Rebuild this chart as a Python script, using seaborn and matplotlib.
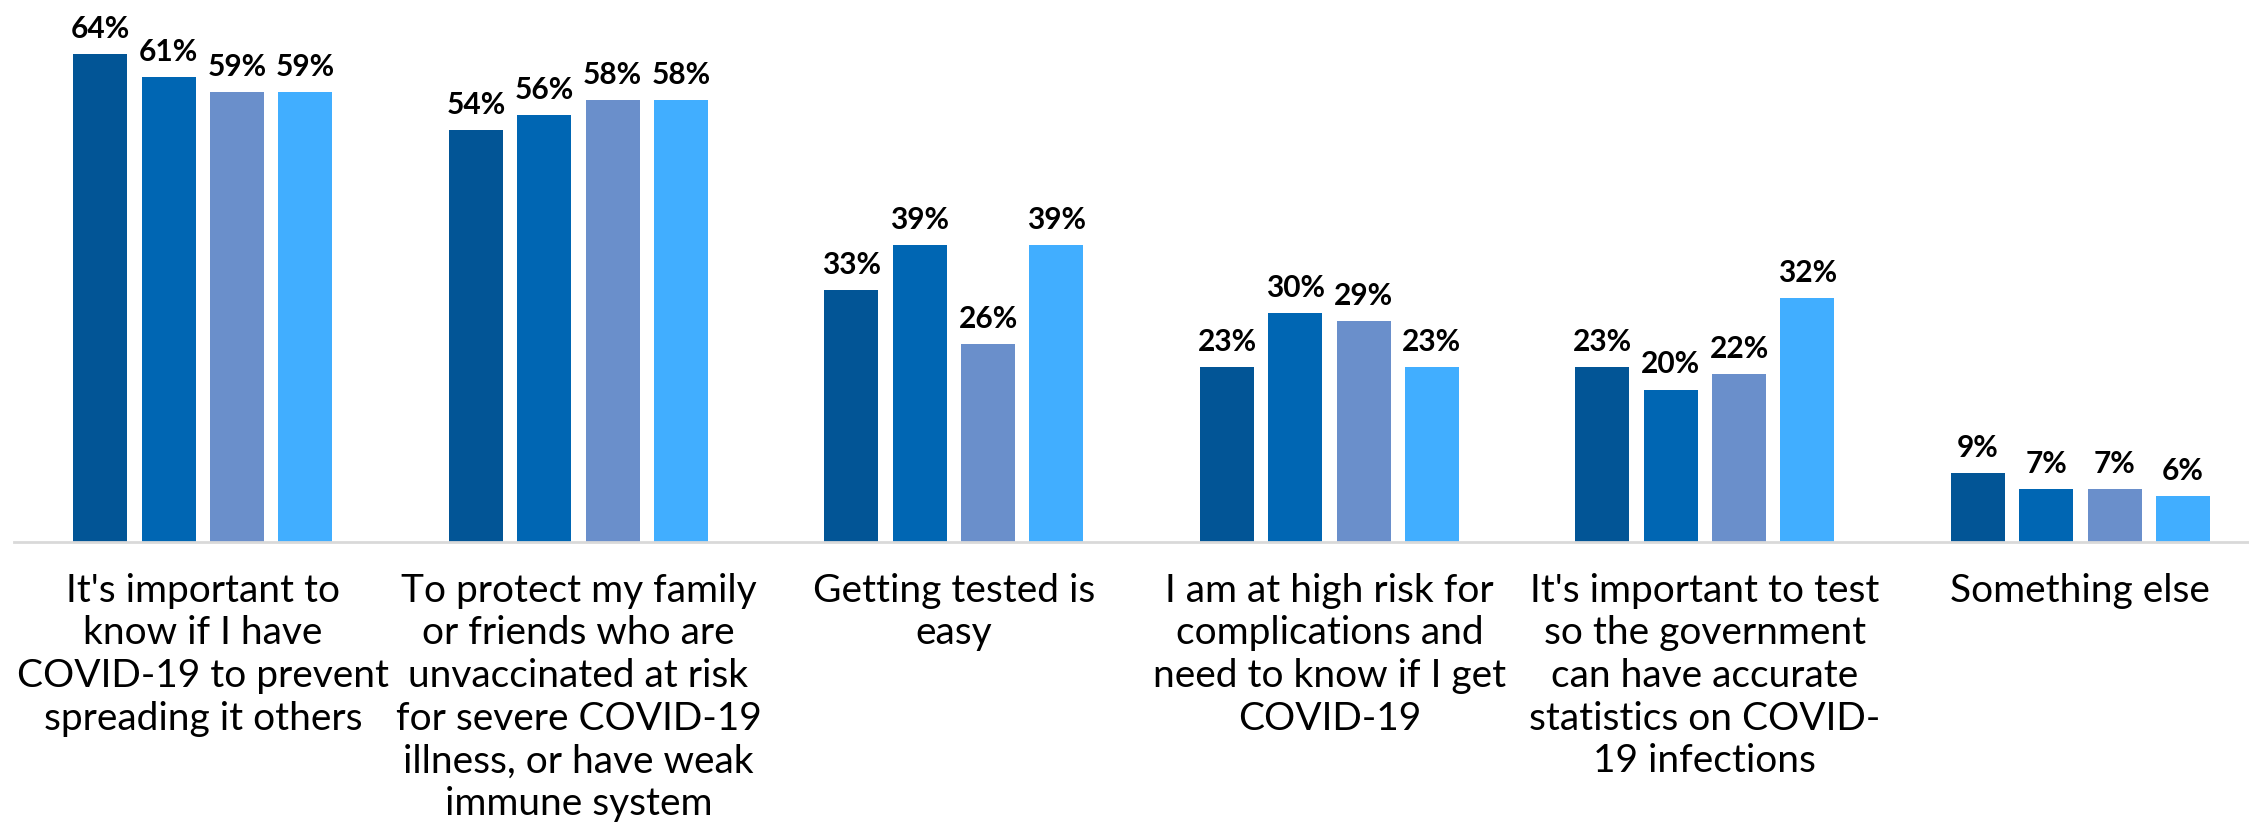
import matplotlib
matplotlib.use("Agg")
import matplotlib.pyplot as plt
import seaborn as sns
import pandas as pd

# Reasons for getting tested, four survey waves
categories = [
    "It's important to\nknow if I have\nCOVID-19 to prevent\nspreading it others",
    "To protect my family\nor friends who are\nunvaccinated at risk\nfor severe COVID-19\nillness, or have weak\nimmune system",
    "Getting tested is\neasy",
    "I am at high risk for\ncomplications and\nneed to know if I get\nCOVID-19",
    "It's important to test\nso the government\ncan have accurate\nstatistics on COVID-\n19 infections",
    "Something else",
]
waves = ["Wave 1", "Wave 2", "Wave 3", "Wave 4"]
wave1 = [64, 54, 33, 23, 23, 9]
wave2 = [61, 56, 39, 30, 20, 7]
wave3 = [59, 58, 26, 29, 22, 7]
wave4 = [59, 58, 39, 23, 32, 6]
palette = ["#025596", "#0066B3", "#6A8FCB", "#41AEFF"]

rows = []
for wave, vals in zip(waves, [wave1, wave2, wave3, wave4]):
    for cat, v in zip(categories, vals):
        rows.append({"reason": cat, "wave": wave, "pct": v})
df = pd.DataFrame(rows)

sns.set_theme(style="white")
plt.rcParams["font.family"] = ["Lato", "DejaVu Sans"]

W, H = 2249, 839
fig = plt.figure(figsize=(W / 100, H / 100), dpi=100)
ax_left, ax_bottom = 14 / W, (H - 542) / H
ax = fig.add_axes([ax_left, ax_bottom, 1 - ax_left, 542 / H])

sns.barplot(data=df, x="reason", y="pct", hue="wave", order=categories,
            hue_order=waves, palette=palette, width=0.7275, gap=0.21,
            linewidth=0, saturation=1, legend=False, ax=ax, errorbar=None)

for cont in ax.containers:
    ax.bar_label(cont, labels=[f"{int(round(b.get_height()))}%" for b in cont],
                 padding=8, fontsize=21.5, fontweight="bold", color="#000000")

ax.set_ylim(0, 71.1)
ax.set_xlim(-0.503, 5.449)
ax.set_xlabel("")
ax.set_ylabel("")
ax.set_yticks([])
for s in ["top", "right", "left"]:
    ax.spines[s].set_visible(False)
ax.spines["bottom"].set_color("#D9D9D9")
ax.spines["bottom"].set_linewidth(2)
ax.tick_params(axis="x", length=0, pad=22, labelsize=28, labelcolor="#000000")
for lbl in ax.get_xticklabels():
    lbl.set_multialignment("center")
    lbl.set_linespacing(1.23)

fig.savefig("out.png", dpi=100, facecolor="white")
